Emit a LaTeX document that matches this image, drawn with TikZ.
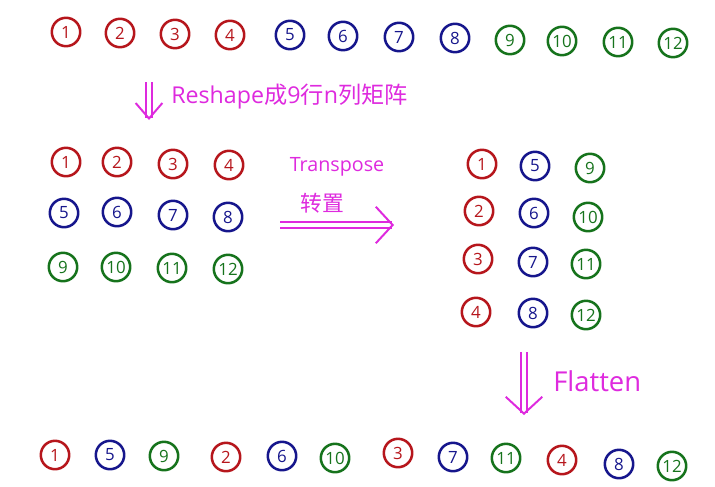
\documentclass[tikz,border=0pt]{standalone}
\usepackage{fontspec}
\setmainfont{Open Sans}
\newfontfamily\cjk{Noto Sans CJK SC}
\usetikzlibrary{arrows.meta}
\definecolor{ballred}{RGB}{182,22,28}
\definecolor{ballblue}{RGB}{22,22,140}
\definecolor{ballgreen}{RGB}{22,115,28}
\definecolor{pen}{RGB}{222,42,222}

\begin{document}
\begin{tikzpicture}[x=0.025cm,y=-0.025cm,
  ball/.style={circle,draw,line width=1.8pt,minimum size=0.71cm,inner sep=0pt,
    font=\fontsize{12}{12}\selectfont},
  redball/.style={ball,draw=ballred,text=ballred},
  blueball/.style={ball,draw=ballblue,text=ballblue},
  greenball/.style={ball,draw=ballgreen,text=ballgreen},
  note/.style={text=pen,inner sep=0pt,font=\fontsize{16.5}{16.5}\selectfont},
  dbl/.style={draw=pen,line width=1.2pt,double=white,double distance=3.2pt,
    -{Straight Barb[length=12pt,width=26pt,line width=1.4pt]}}]
\useasboundingbox (0,0) rectangle (715,486);

% the vector of 12
\node[redball] (a1) at (66,32) {1};
\node[redball] (a2) at (120,33) {2};
\node[redball] (a3) at (175,34) {3};
\node[redball] (a4) at (230,35) {4};
\node[blueball] (a5) at (290,35) {5};
\node[blueball] (a6) at (343,36) {6};
\node[blueball] (a7) at (399,37) {7};
\node[blueball] (a8) at (455,38) {8};
\node[greenball] (a9) at (510,40) {9};
\node[greenball] (a10) at (562,41) {10};
\node[greenball] (a11) at (618,42) {11};
\node[greenball] (a12) at (673,43) {12};

% reshape
\coordinate (rs0) at (149,82);
\coordinate (rs1) at (149,120);
\draw[dbl,-{Straight Barb[length=11pt,width=19pt,line width=1.4pt]}] (rs0) -- (rs1);
\node[note,anchor=west] (rsh) at (171,97) {Reshape{\cjk 成}9{\cjk 行}n{\cjk 列矩阵}};

% 3 x 4 matrix
\node[redball] (m1) at (66,162) {1};
\node[redball] (m2) at (117,162) {2};
\node[redball] (m3) at (173,164) {3};
\node[redball] (m4) at (229,165) {4};
\node[blueball] (m5) at (64,213) {5};
\node[blueball] (m6) at (117,212) {6};
\node[blueball] (m7) at (173,215) {7};
\node[blueball] (m8) at (228,217) {8};
\node[greenball] (m9) at (63,267) {9};
\node[greenball] (m10) at (116,267) {10};
\node[greenball] (m11) at (172,268) {11};
\node[greenball] (m12) at (228,269) {12};

% transpose
\node[note,font=\fontsize{14}{14}\selectfont] (tr) at (337,167) {Transpose};
\node[note,font=\cjk\fontsize{15.5}{15.5}\selectfont] (zz) at (322,203) {转置};
\coordinate (tr0) at (280,225);
\coordinate (tr1) at (394,225);
\draw[dbl] (tr0) -- (tr1);

% 4 x 3 matrix
\node[redball] (t1) at (482,164) {1};
\node[blueball] (t5) at (535,166) {5};
\node[greenball] (t9) at (590,168) {9};
\node[redball] (t2) at (479,211) {2};
\node[blueball] (t6) at (534,213) {6};
\node[greenball] (t10) at (588,217) {10};
\node[redball] (t3) at (478,259) {3};
\node[blueball] (t7) at (533,262) {7};
\node[greenball] (t11) at (586,264) {11};
\node[redball] (t4) at (476,312) {4};
\node[blueball] (t8) at (533,313) {8};
\node[greenball] (t12) at (586,315) {12};

% flatten
\coordinate (fl0) at (524,352);
\coordinate (fl1) at (524,415);
\draw[dbl] (fl0) -- (fl1);
\node[note,anchor=west,font=\fontsize{19.5}{19.5}\selectfont] (fla) at (553,381) {Flatten};

% the flattened vector
\node[redball] (f1) at (55,455) {1};
\node[blueball] (f5) at (110,455) {5};
\node[greenball] (f9) at (164,456) {9};
\node[redball] (f2) at (226,457) {2};
\node[blueball] (f6) at (282,456) {6};
\node[greenball] (f10) at (335,458) {10};
\node[redball] (f3) at (398,453) {3};
\node[blueball] (f7) at (453,457) {7};
\node[greenball] (f11) at (506,458) {11};
\node[redball] (f4) at (562,460) {4};
\node[blueball] (f8) at (619,464) {8};
\node[greenball] (f12) at (672,466) {12};
\end{tikzpicture}
\end{document}
